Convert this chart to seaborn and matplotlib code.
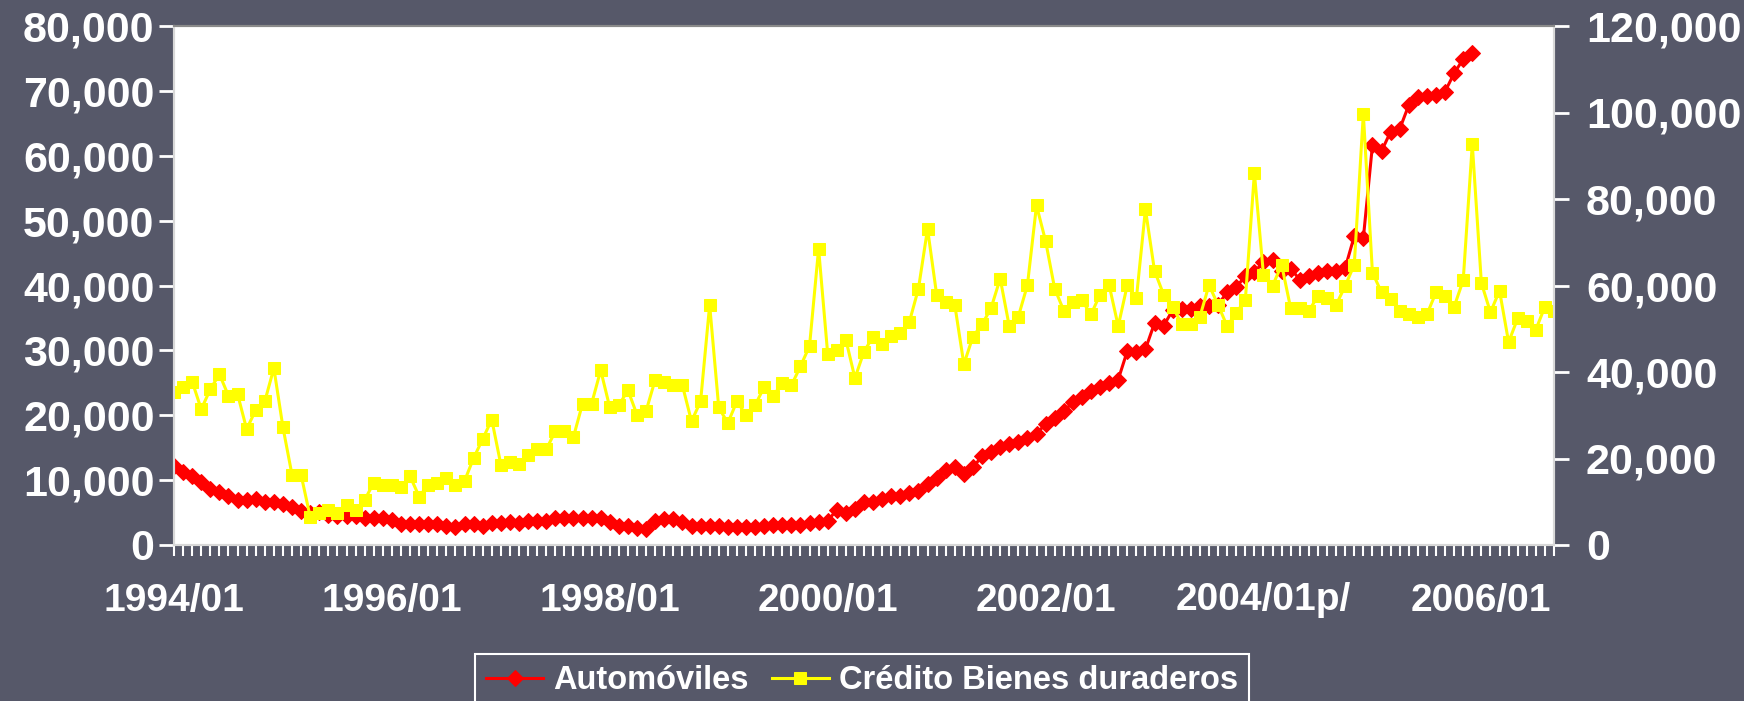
import matplotlib
matplotlib.use("Agg")
import matplotlib.pyplot as plt
import seaborn as sns
import numpy as np
import pandas as pd

# ---------------- data ----------------
automoviles = [
    12200, 11200, 10600, 9700, 8700, 8100, 7500, 6900, 6900, 7050, 6650, 6650,
    6300, 5900, 5300, 5000, 5100, 4700, 4400, 4400, 4500, 4100, 4100, 4100,
    3800, 3250, 3250, 3250, 3250, 3250, 2950, 2800, 3250, 3250, 2950, 3350,
    3350, 3550, 3400, 3700, 3700, 3700, 4100, 4100, 4100, 4100, 4100, 4100,
    3600, 2950, 2950, 2650, 2400, 3700, 3950, 3950, 3550, 2950, 2950, 2950,
    2950, 2800, 2800, 2800, 2800, 2950, 3100, 3100, 3100, 3100, 3350, 3550,
    3700, 5450, 5000, 5500, 6700, 6700, 7050, 7500, 7600, 7950, 8250, 9400,
    10300, 11600, 11950, 11000, 11950, 13700, 14400, 15100, 15600, 15900, 16500, 17100,
    18700, 19600, 20600, 22000, 22800, 23700, 24300, 25000, 25500, 29900, 29800, 30200,
    34200, 33800, 36200, 36400, 36400, 36800, 36800, 37000, 39000, 39800, 41400, 42100,
    43600, 43900, 42300, 42600, 40900, 41400, 42000, 42200, 42200, 42700, 47600, 47300,
    61600, 60700, 63700, 64100, 67800, 69000, 69200, 69400, 69900, 72700, 74900, 75800,
]

credito_bienes = [
    35400, 36500, 37800, 31400, 36000, 39500, 34500, 34900, 26800, 31200, 33200, 40900,
    27200, 16200, 16200, 6500, 7500, 8000, 7500, 9300, 8000, 10400, 14400, 13900,
    13900, 13500, 15900, 11200, 13900, 14400, 15500, 13900, 14800, 20100, 24500, 29000,
    18600, 19200, 18800, 20800, 22100, 22100, 26300, 26300, 25000, 32700, 32700, 40400,
    31800, 32300, 35800, 30100, 31000, 38200, 37800, 36900, 36900, 28600, 33200, 55500,
    31800, 28200, 33200, 30100, 32300, 36500, 34500, 37400, 36900, 41300, 46000, 68500,
    44200, 45100, 47500, 38600, 44700, 48200, 46400, 48400, 49100, 51600, 59300, 73100,
    57900, 56200, 55500, 41800, 48200, 51000, 54800, 61600, 50600, 52800, 60100, 78500,
    70300, 59300, 54200, 56200, 56600, 53300, 57900, 60100, 50600, 60100, 57000, 77600,
    63400, 57900, 55100, 51000, 51000, 52800, 60100, 55500, 50600, 53700, 56600, 86000,
    62500, 59900, 64800, 54700, 54700, 54200, 57500, 57000, 55500, 59900, 64800, 99700,
    63000, 58400, 56900, 54200, 53300, 52800, 53300, 58400, 57500, 55100, 61200, 92700,
    60600, 53800, 58800, 46900, 52400, 51900, 49800, 55100, 54200,
]

tick_labels = ["1994/01", "1996/01", "1998/01", "2000/01", "2002/01", "2004/01p/", "2006/01"]
tick_month_index = [0, 24, 48, 72, 96, 120, 144]
left_ticks = [0, 10000, 20000, 30000, 40000, 50000, 60000, 70000, 80000]
right_ticks = [0, 20000, 40000, 60000, 80000, 100000, 120000]

label_auto = "Automóviles"
label_cred = "Crédito Bienes duraderos"

# ---------------- style ----------------
BG = "#565869"
FONT = ["Liberation Sans", "DejaVu Sans"]
plt.rcParams["font.family"] = FONT
plt.rcParams["font.weight"] = "bold"

df_auto = pd.DataFrame({"m": np.arange(len(automoviles)), "v": automoviles})
df_cred = pd.DataFrame({"m": np.arange(len(credito_bienes)), "v": credito_bienes})

fig = plt.figure(figsize=(17.44, 7.01), dpi=100, facecolor=BG)
ax = fig.add_axes([174 / 1744, 1 - 545 / 701, (1554 - 174) / 1744, (545 - 26) / 701])
ax.set_facecolor("white")
ax2 = ax.twinx()
ax2.patch.set_visible(False)

sns.lineplot(data=df_auto, x="m", y="v", ax=ax, color="#FF0000", marker="D",
             markersize=8, markeredgecolor="#FF0000", linewidth=2.2,
             label=label_auto, legend=False)
sns.lineplot(data=df_cred, x="m", y="v", ax=ax2, color="#FFFF00", marker="s",
             markersize=9, markeredgecolor="#FFFF00", linewidth=2.2,
             label=label_cred, legend=False)

n = len(credito_bienes)
ax.set_xlim(0, n - 1)
ax.set_ylim(0, 80000)
ax2.set_ylim(0, 120000)

all_ticks = list(range(n))
lbls = [""] * n
for i, t in zip(tick_month_index, tick_labels):
    lbls[i] = t
ax.set_xticks(all_ticks)
ax.set_xticklabels(lbls)
ax.set_yticks(left_ticks)
ax.set_yticklabels([f"{v:,}" for v in left_ticks])
ax2.set_yticks(right_ticks)
ax2.set_yticklabels([f"{v:,}" for v in right_ticks])

ax.set_xlabel("")
ax.set_ylabel("")
ax2.set_xlabel("")
ax2.set_ylabel("")

ax.tick_params(axis="x", colors="white", length=8, width=1.5, direction="out",
               labelsize=28, pad=19)
ax.tick_params(axis="y", colors="white", length=11, width=2, direction="out",
               labelsize=31, pad=3)
ax2.tick_params(axis="y", colors="white", length=11, width=2, direction="out",
                labelsize=31, pad=12)
for a in (ax, ax2):
    for lab in a.get_xticklabels() + a.get_yticklabels():
        lab.set_fontweight("bold")
        lab.set_color("white")
    for s in a.spines.values():
        s.set_color("#d8d8d8")
        s.set_linewidth(1.5)
    a.spines["top"].set_color("#8a8a8a")
    a.grid(False)

# ---------------- legend ----------------
h1, l1 = ax.get_legend_handles_labels()
h2, l2 = ax2.get_legend_handles_labels()
leg = fig.legend(h1 + h2, l1 + l2, loc="upper center",
                 bbox_to_anchor=(862 / 1744, 1 - 654 / 701), borderaxespad=0,
                 ncol=2, frameon=True, fancybox=False, facecolor=BG,
                 edgecolor="white", framealpha=1,
                 prop={"family": FONT, "weight": "bold", "size": 23.5},
                 handlelength=1.75, handletextpad=0.3, columnspacing=0.7,
                 borderpad=0.35)
leg.get_frame().set_linewidth(1.5)
for t in leg.get_texts():
    t.set_color("white")

fig.savefig("out.png", dpi=100, facecolor=BG)
